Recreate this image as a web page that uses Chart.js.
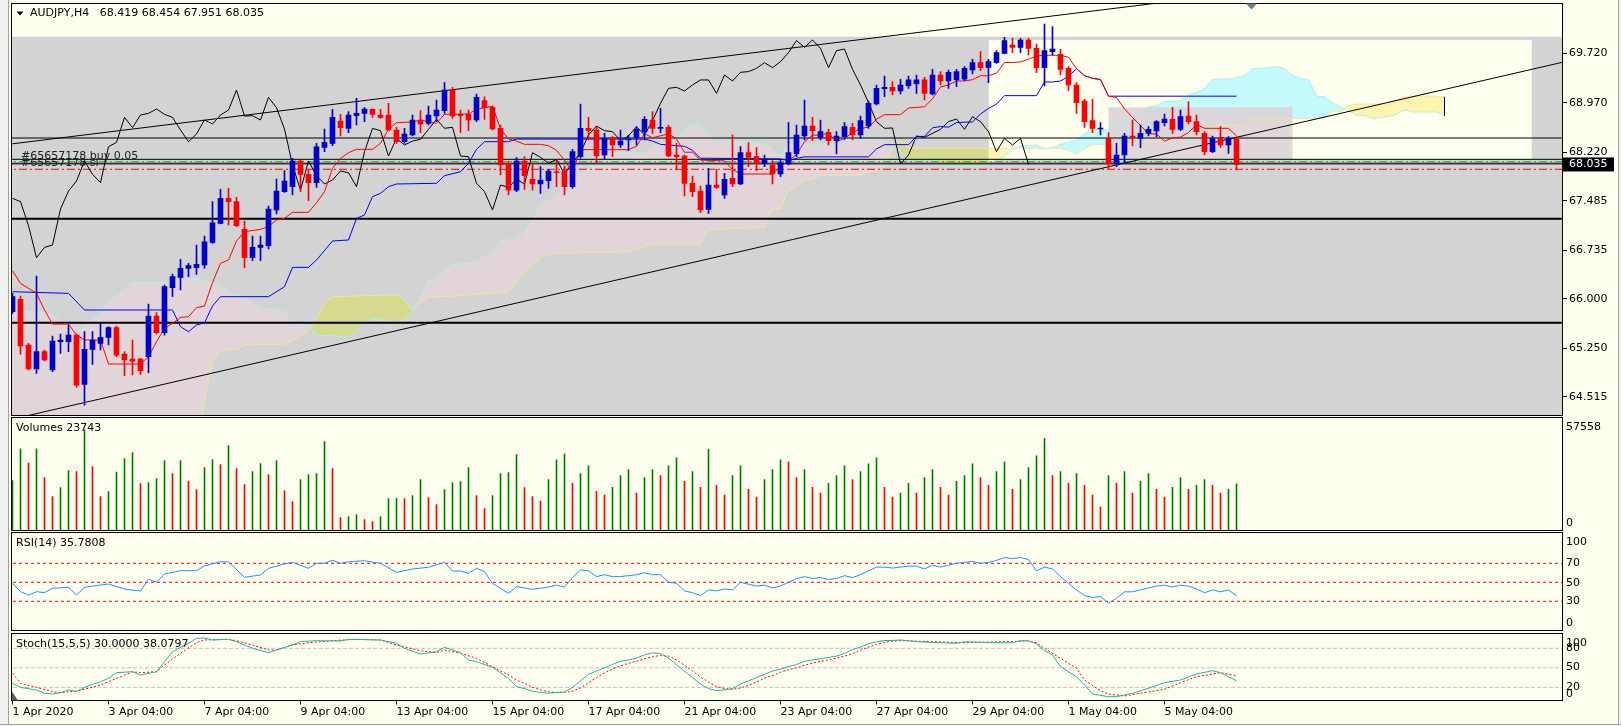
<!DOCTYPE html>
<html>
<head>
<meta charset="utf-8">
<title>AUDJPY,H4</title>
<script src="https://cdn.jsdelivr.net/npm/chart.js@4.4.1/dist/chart.umd.min.js"></script>
<style>
  html, body { margin:0; padding:0; }
  body { width:1621px; height:726px; background:#FFFFF0; position:relative; overflow:hidden; }
  canvas { position:absolute; left:0; }
  .win { position:absolute; background:#F0F0F0; }
</style>
</head>
<body>
<div class="win" style="left:0;top:0;width:8px;height:726px;border-right:1px solid #A0A0A0;"></div>
<div class="win" style="left:1618px;top:0;width:3px;height:726px;border-left:1px solid #A0A0A0;"></div>
<div class="win" style="left:0;top:724px;width:1621px;height:2px;border-top:1px solid #A0A0A0;"></div>
<canvas id="main" width="1621" height="416" style="top:0px"></canvas>
<canvas id="vol" width="1621" height="114" style="top:417px"></canvas>
<canvas id="rsi" width="1621" height="100" style="top:532px"></canvas>
<canvas id="sto" width="1621" height="93" style="top:633px"></canvas>
<script>
// ---------------- DATA ----------------
const symbol = 'AUDJPY', timeframe = 'H4';

const opens = [65.803,65.990,65.298,64.934,65.197,64.919,65.348,65.348,65.449,64.702,
65.232,65.323,65.414,65.561,65.161,65.086,65.086,65.121,65.737,65.485,
66.167,66.324,66.460,66.470,66.511,66.854,67.142,67.521,67.471,67.051,
66.622,66.778,66.804,67.344,67.622,67.698,68.087,67.885,67.759,68.294,
68.355,68.694,68.582,68.774,68.810,68.870,68.785,68.785,68.557,68.380,
68.481,68.709,68.658,68.769,68.850,69.163,68.795,68.795,68.709,69.002,
68.901,68.582,68.052,67.647,68.087,67.809,67.739,67.789,67.925,67.941,
67.698,68.153,68.582,68.557,68.178,68.446,68.330,68.406,68.446,68.532,
68.709,68.583,68.598,68.179,68.163,67.749,67.633,67.355,67.724,67.572,
67.825,67.739,68.214,68.153,68.052,68.027,67.891,68.042,68.194,68.467,
68.618,68.446,68.522,68.396,68.457,68.598,68.482,68.618,68.952,69.184,
69.204,69.149,69.230,69.255,69.316,69.103,69.391,69.300,69.316,69.326,
69.467,69.578,69.507,69.578,69.720,69.846,69.811,69.922,69.795,69.502,
69.745,69.705,69.492,69.240,68.997,68.699,68.573,68.431,68.042,68.179,
68.467,68.431,68.507,68.543,68.669,68.719,68.568,68.770,68.684,68.507,
68.229,68.446,68.330,68.419];

const highs = [66.081,66.041,65.323,66.344,65.222,65.434,65.465,65.601,65.465,65.500,
65.500,65.626,65.576,65.586,65.197,65.374,65.096,65.919,65.788,66.207,
66.374,66.597,66.536,66.814,66.950,67.471,67.658,67.673,67.536,67.178,
66.950,66.950,67.405,67.814,67.941,68.128,68.100,67.951,68.355,68.572,
68.870,68.795,68.835,69.037,68.896,68.880,68.870,68.961,68.598,68.582,
68.785,68.850,68.921,69.012,69.275,69.204,68.860,68.860,69.103,69.062,
68.921,68.633,68.087,68.138,68.153,68.052,68.001,67.961,68.102,68.012,
68.264,68.951,68.749,68.608,68.507,68.456,68.557,68.481,68.608,68.760,
68.835,68.886,68.633,68.355,68.179,67.860,67.709,67.976,67.961,67.901,
68.482,68.305,68.365,68.290,68.179,68.093,68.113,68.669,68.633,69.012,
68.750,68.709,68.568,68.532,68.669,68.659,68.770,68.997,69.240,69.376,
69.290,69.326,69.376,69.391,69.356,69.477,69.442,69.467,69.477,69.518,
69.629,69.745,69.629,69.760,69.962,69.947,69.947,69.947,69.861,70.164,
70.124,69.780,69.518,69.275,69.022,69.022,68.669,68.517,68.355,68.507,
68.709,68.633,68.608,68.699,68.800,68.901,68.861,68.987,68.785,68.532,
68.467,68.608,68.457,68.454];

const lows = [65.778,65.161,64.920,64.868,65.056,64.894,65.172,65.197,64.656,64.388,
65.005,65.222,65.298,65.121,64.833,64.843,64.853,64.879,65.465,65.449,
66.031,66.132,66.334,66.369,66.460,66.839,67.132,67.117,67.092,66.470,
66.576,66.576,66.753,67.284,67.612,67.572,67.622,67.486,67.688,68.229,
68.320,68.466,68.517,68.633,68.684,68.749,68.734,68.547,68.355,68.355,
68.466,68.517,68.633,68.684,68.810,68.734,68.517,68.547,68.684,68.719,
68.557,67.875,67.572,67.622,67.658,67.647,67.597,67.673,67.698,67.572,
67.673,68.128,68.406,68.052,68.113,68.153,68.294,68.244,68.330,68.406,
68.507,68.517,68.153,67.951,67.557,67.547,67.304,67.294,67.673,67.522,
67.698,67.730,68.002,67.941,68.002,67.739,67.850,68.027,68.153,68.406,
68.396,68.406,68.330,68.194,68.416,68.406,68.431,68.583,68.937,69.063,
69.088,69.103,69.189,69.113,69.012,69.088,69.240,69.189,69.215,69.305,
69.406,69.457,69.275,69.568,69.710,69.730,69.730,69.694,69.427,69.225,
69.694,69.391,69.154,68.810,68.598,68.517,68.482,67.976,68.002,68.052,
68.315,68.290,68.467,68.457,68.618,68.507,68.548,68.649,68.482,68.179,
68.214,68.295,68.204,67.951];

const closes = [66.031,65.283,64.934,65.197,65.071,65.359,65.374,65.449,64.691,65.232,
65.374,65.414,65.561,65.146,65.071,65.055,64.909,65.737,65.485,66.182,
66.334,66.460,66.501,66.521,66.864,67.152,67.521,67.471,67.107,66.622,
66.778,66.814,67.360,67.632,67.784,68.087,67.885,67.759,68.304,68.370,
68.749,68.593,68.785,68.810,68.875,68.795,68.749,68.557,68.380,68.497,
68.709,68.648,68.785,68.860,69.163,68.769,68.774,68.709,69.052,68.896,
68.572,68.027,67.647,68.087,67.865,67.739,67.799,67.936,67.910,67.698,
68.229,68.582,68.547,68.163,68.431,68.330,68.390,68.416,68.567,68.719,
68.583,68.598,68.163,68.153,67.749,67.623,67.345,67.724,67.688,67.810,
67.739,68.214,68.143,68.052,68.113,67.891,68.062,68.214,68.482,68.618,
68.547,68.532,68.396,68.467,68.608,68.482,68.699,68.962,69.189,69.204,
69.149,69.240,69.316,69.316,69.113,69.391,69.300,69.432,69.442,69.492,
69.578,69.502,69.593,69.730,69.912,69.811,69.922,69.795,69.502,69.760,
69.785,69.477,69.240,68.972,68.684,68.583,68.588,68.042,68.179,68.467,
68.446,68.507,68.568,68.684,68.724,68.568,68.760,68.684,68.532,68.229,
68.431,68.330,68.431,68.035];

const volumes = [25470,41600,34300,41600,27000,17300,21900,30560,30050,51300,
32600,17300,19870,29700,36680,39730,23940,24450,26490,35660,
29040,35660,25120,20890,32090,36170,33620,43300,31580,23430,
30050,34130,28530,35660,20380,14770,25980,28530,29040,45340,
31580,6620,7130,8150,5600,4580,7130,16300,16400,16200,
17830,25980,16810,13240,20890,24450,24960,32090,17830,11210,
17830,29040,29550,38710,21900,17300,15000,26000,36000,39000,
24000,29000,33000,20000,18000,22000,28000,31000,19000,27000,
31000,28000,33000,37000,25000,30000,22000,41500,23000,18000,
28000,33000,21000,17000,26000,31000,36000,35000,27000,31000,
22000,19000,24000,28000,33000,26000,30000,34000,37000,22000,
17000,19000,24000,19000,27000,31000,22000,18000,25000,28000,
34000,27000,23000,30000,35000,21000,26000,32000,38000,47000,
28000,30000,24000,29000,23000,18000,12000,28000,24000,30000,
19000,25000,29000,21000,17000,22000,27000,21000,23000,26000,
23000,19000,21000,23743];
const VOL_MAX = 57558;

// Ichimoku lines, read as [bar, price] vertices
const tenkan = [[0,66.425],[1,66.233],[3,66.081],[4,65.829],[5,65.616],[7,65.616],[8,65.449],[9,65.374],[11,65.374],[12,65.010],[16,65.010],[17,65.121],[18,65.348],[19,65.550],[20,65.626],[21,65.717],[22,65.727],[23,65.864],[24,65.889],[25,66.243],[26,66.536],[27,66.587],[28,66.874],[29,67.016],[31,67.051],[32,67.092],[33,67.193],[34,67.218],[35,67.309],[37,67.309],[38,67.455],[39,67.622],[40,67.976],[41,68.128],[42,68.213],[43,68.264],[45,68.264],[46,68.355],[47,68.567],[48,68.668],[50,68.678],[51,68.709],[53,68.658],[54,68.795],[57,68.80],[58,68.87],[59,68.896],[60,68.916],[61,68.575],[62,68.42],[63,68.39],[64,68.34],[66,68.34],[67,68.32],[68,68.25],[69,68.10],[70,67.92],[71,68.26],[77,68.26],[78,68.31],[79,68.50],[80,68.44],[81,68.47],[82,68.50],[83,68.42],[84,68.22],[85,68.22],[86,68.10],[89,68.09],[90,67.96],[91,67.89],[95,67.89],[96,68.00],[97,68.10],[98,68.18],[99,68.38],[100,68.48],[101,68.48],[102,68.51],[103,68.38],[104,68.43],[105,68.52],[106,68.58],[107,68.60],[108,68.72],[109,68.79],[111,68.79],[112,68.89],[113,68.90],[114,68.91],[115,69.03],[116,69.21],[117,69.24],[118,69.30],[119,69.30],[120,69.32],[121,69.38],[122,69.38],[123,69.42],[124,69.58],[125,69.58],[126,69.59],[127,69.63],[128,69.68],[129,69.69],[131,69.69],[132,69.66],[133,69.487],[134,69.381],[135,69.34],[136,69.323],[137,69.07],[138,69.05],[139,68.878],[140,68.747],[141,68.626],[142,68.499],[143,68.499],[144,68.388],[145,68.438],[146,68.45],[147,68.52],[148,68.64],[149,68.583],[152,68.583],[153,68.469]];

const kijun = [[0,66.106],[7,66.081],[9,65.829],[20,65.829],[21,65.576],[22,65.50],[23,65.601],[24,65.636],[25,65.889],[26,66.031],[32,66.031],[34,66.182],[35,66.475],[37,66.475],[38,66.586],[40,66.875],[42,66.89],[43,67.218],[44,67.269],[45,67.547],[46,67.597],[47,67.698],[48,67.739],[53,67.749],[54,67.865],[56,67.925],[57,68.052],[58,68.264],[59,68.38],[62,68.38],[63,68.42],[79,68.42],[80,68.39],[81,68.34],[84,68.31],[85,68.25],[86,68.13],[96,68.12],[97,68.09],[98,68.13],[99,68.15],[107,68.15],[108,68.27],[109,68.335],[112,68.335],[113,68.46],[114,68.46],[115,68.59],[116,68.61],[117,68.60],[118,68.67],[120,68.68],[121,68.80],[122,68.886],[123,68.95],[124,69.078],[128,69.078],[129,69.285],[130,69.285],[131,69.30],[132,69.37],[133,69.487],[134,69.381],[135,69.34],[136,69.323],[137,69.07],[153,69.07]];

const spanA = [[0,65.803],[4,65.803],[7,65.601],[8,65.551],[9,65.586],[10,65.677],[11,65.778],[12,65.955],[13,66.041],[14,66.157],[15,66.248],[19,66.248],[20,66.268],[23,66.309],[24,66.283],[25,66.248],[26,66.182],[28,66.056],[29,66.020],[30,65.929],[31,65.854],[33,65.839],[34,65.803],[35,65.616],[37,65.601],[38,65.449],[42,65.424],[43,65.525],[44,65.616],[45,65.702],[46,65.677],[48,65.636],[49,65.677],[50,65.803],[51,66.031],[52,66.283],[53,66.293],[54,66.425],
[55,66.52],[56,66.53],[57,66.54],[58,66.56],[59,66.65],[60,66.70],[61,66.89],[62,66.89],[63,66.89],[64,67.02],[65,67.18],[66,67.43],[67,67.50],[68,67.55],[69,67.74],[70,67.77],[71,67.91],[72,67.98],[73,68.13],[74,68.20],[75,68.21],[76,68.21],[77,68.22],[78,68.20],[79,68.20],[80,68.33],[81,68.36],[82,68.36],[83,68.43],[84,68.57],[85,68.64],[86,68.65],[87,68.48],[88,68.40],[89,68.41],[90,68.38],[91,68.38],[92,68.38],[93,68.37],[94,68.34],[95,68.26],[96,68.17],[97,68.34],[98,68.34],[99,68.34],[100,68.34],[101,68.34],[102,68.34],[103,68.34],[104,68.37],[105,68.46],[106,68.42],[107,68.41],[108,68.42],[109,68.38],[110,68.27],[111,68.24],[112,68.11],[113,68.11],[114,68.11],[115,68.11],[116,68.04],[117,68.01],[118,68.01],[119,68.01],[120,68.01],[121,68.01],[122,68.06],[123,68.10],[124,68.16],[125,68.27],[126,68.32],[127,68.32],[128,68.33],[129,68.27],[130,68.29],[131,68.34],[132,68.37],[133,68.40],[134,68.50],[135,68.56],[136,68.56],[137,68.56],[138,68.61],[139,68.68],[140,68.69],[141,68.81],[142,68.91],[143,68.92],[144,68.99],[145,68.99],[146,69.00],[147,69.09],[148,69.13],[149,69.19],[150,69.33],[151,69.33],[152,69.33],[153,69.35],[154,69.38],[155,69.49],[156,69.49],[157,69.50],[158,69.52],[159,69.49],[160,69.38],[161,69.34],[162,69.32],[163,69.07],[164,69.06],[165,68.97],[166,68.91],[167,68.85],[168,68.78],[169,68.78],[170,68.73],[171,68.75],[172,68.76],[173,68.80],[174,68.86],[175,68.83],[176,68.83],[177,68.83],[178,68.83],[179,68.77]];

const spanB = [[0,63.6],[23,63.6],[24,64.45],[25,65.05],[26,65.22],[28,65.23],[29,65.30],[34,65.31],[35,65.37],[36,65.45],[37,65.53],[38,65.70],[39,65.93],[40,66.03],[48,66.06],[49,65.98],[50,65.83],[51,65.95],[52,66.02],[55,66.04],[62,66.10],[63,66.25],[64,66.40],[66,66.64],[68,66.69],[77,66.71],[80,66.83],[86,66.83],[87,67.05],[94,67.08],[95,67.37],[96,67.36],[97,67.65],[98,67.70],[99,67.80],[100,67.82],[101,67.87],[106,67.87],[107,67.93],[108,67.93],[109,68.01],[110,68.28],[111,68.38],[112,68.29],[113,68.28],[122,68.28],[131,68.28],[132,68.25],[133,68.20],[134,68.27],[135,68.335],[138,68.335],[139,68.34],[140,68.34],[141,68.39],[143,68.39],[144,68.44],[145,68.44],[146,68.46],[147,68.52],[149,68.52],[150,68.63],[154,68.63],[155,68.73],[164,68.73],[165,68.84],[166,68.84],[167,68.93],[168,68.95],[172,68.95],[173,69.01],[174,69.07],[178,69.07],[179,69.06]];
const chikouShift = 26;
const cloudSplit = 122;   // bar where the light rectangle begins

const rsi = [[0,48.9],[1,40.1],[2,36.6],[3,40.1],[4,39.1],[5,43.7],[7,44.7],[8,36.6],[9,44.7],[11,47.2],[12,48.2],[14,42.9],[16,40.8],[17,53.2],[18,50],[19,58.7],[21,62.2],[23,62.2],[24,67.2],[26,71.7],[27,71.4],[29,55.3],[31,57.7],[32,64.7],[34,69.3],[35,71],[37,64.7],[38,70],[39,70],[40,73.2],[41,70],[42,71.7],[44,72.7],[46,70],[48,60.5],[50,64],[52,65.8],[54,71],[55,61.9],[56,61.9],[57,59.5],[58,64.7],[59,61.2],[60,48.9],[62,38.4],[63,45.4],[65,42.6],[66,43.7],[67,45],[68,47],[69,45],[70,55],[71,63],[72,62],[73,56],[74,58],[75,56],[76,56],[77,57],[78,58],[79,60],[80,58],[81,58],[82,50],[83,49],[84,41],[85,39],[86,36],[87,42],[88,41],[89,43],[90,42],[91,50],[92,48],[93,46],[94,47],[95,44],[96,46],[97,50],[98,54],[99,56],[100,54],[101,55],[102,53],[103,54],[104,57],[105,55],[106,58],[107,62],[108,66],[109,66],[110,65],[111,66],[112,67],[113,67],[114,64],[115,68],[116,66],[117,68],[118,70],[119,71],[120,72],[121,70],[122,71],[123,73],[124,76],[125,75],[126,76],[127,74],[128,62],[129,66],[130,64],[131,56],[132,49],[133,42],[134,36],[135,34],[136,35],[137,28],[138,33],[139,40],[140,40],[141,42],[142,44],[143,46],[144,47],[145,45],[146,47],[147,46],[148,43],[149,39],[150,42],[151,40],[152,42],[153,35.7808]];

const stochMain = [[0,26.2],[1,20],[3,15.8],[4,10.8],[5,9.7],[6,11.7],[7,15.8],[8,13.3],[9,20],[11,28.6],[12,33.8],[13,42.5],[15,44],[16,38.9],[18,44],[19,59.4],[20,74.8],[22,87.7],[23,95.4],[24,95.8],[25,92.8],[27,93.8],[28,90.2],[30,80],[32,73.3],[33,77.4],[35,85.1],[36,90.2],[38,91.7],[41,91.2],[42,93.8],[46,92.8],[48,87.7],[49,80],[51,71.2],[53,74.8],[54,81.5],[56,73.3],[57,62],[58,59.4],[60,50.8],[62,33.8],[63,20.9],[64,18],[65,14],[66,12],[67,11],[68,12],[69,13],[70,20],[71,30],[72,40],[73,45],[74,50],[75,55],[76,60],[77,62],[78,65],[79,70],[80,73],[81,72],[82,65],[83,55],[84,45],[85,35],[86,25],[87,18],[88,15],[89,16],[90,18],[91,25],[92,30],[93,35],[94,40],[95,45],[96,48],[97,52],[98,55],[99,60],[100,62],[101,64],[102,66],[103,68],[104,72],[105,78],[106,82],[107,87],[108,90],[109,92],[110,92],[111,92.8],[113,90.2],[116,88.6],[118,87.7],[119,90.2],[122,88.6],[125,88.6],[126,91.7],[127,91.7],[128,86.6],[129,76.3],[130,69.7],[131,51.7],[133,36.3],[134,23.5],[135,9.7],[137,5.5],[138,5.5],[140,10.8],[142,18.5],[144,27.1],[146,31.2],[148,40.5],[150,45.5],[151,42.5],[153,30.0]];

const stochSignal = [[0,41.5],[1,26.2],[3,20],[5,13.3],[6,11.7],[8,14.3],[9,16.9],[11,23.5],[13,33.8],[15,44],[16,42.5],[18,44],[19,54.3],[21,72.3],[23,88.6],[24,92.8],[27,93.8],[28,91.7],[30,85.1],[32,77.4],[33,77.4],[35,85.1],[37,88.6],[40,91.7],[43,93.8],[46,92.8],[48,85.1],[51,76.3],[53,73.3],[54,77.4],[56,72.3],[58,64.6],[60,51.7],[62,38.9],[63,31.2],[64,26],[65,20],[66,16],[67,13],[68,12],[69,12],[70,14],[71,19],[72,27],[73,35],[74,42],[75,48],[76,53],[77,57],[78,60],[79,64],[80,67],[81,69],[82,68],[83,62],[84,54],[85,45],[86,36],[87,28],[88,21],[89,18],[90,17],[91,19],[92,23],[93,28],[94,34],[95,38],[96,43],[97,47],[98,50],[99,54],[100,57],[101,60],[102,62],[103,65],[104,68],[105,72],[106,77],[107,82],[108,86],[109,89],[110,91],[111,91.7],[115,90.2],[119,88.6],[124,90.2],[127,91.2],[128,88.6],[129,80],[131,64.6],[133,49.2],[134,31.2],[136,14.8],[137,9.7],[139,6.6],[141,10.8],[144,16.9],[146,27.1],[148,36.3],[151,42.5],[152,40],[153,38.0797]];

// levels, objects and tick labels
const priceTicks = [69.720, 68.970, 68.220, 67.485, 66.735, 66.000, 65.250, 64.515];
const timeTickBars = [0,12,24,36,48,60,72,84,96,108,120,132,144];
const timeTickLabels = ['1 Apr 2020','3 Apr 04:00','7 Apr 04:00','9 Apr 04:00','13 Apr 04:00','15 Apr 04:00','17 Apr 04:00','21 Apr 04:00','23 Apr 04:00','27 Apr 04:00','29 Apr 04:00','1 May 04:00','5 May 04:00'];
const thinLevels = [68.436, 68.113, 68.053];
const thickLevels = [67.213, 65.636];
const entryLevel = 68.077, slLevel = 67.962;
const ticket = '#65657178', lots = '0.05';
const upperTrend = [[0, 68.348], [150, 70.584]];
const lowerTrend = [[0, 64.175], [194, 69.591]];
const rsiLevels = [70, 50, 30];
const stochLevels = [80, 50, 20];
const zones = {
  gray:  { from: -5, to: 200, high: 69.972, low: 60 },
  ivory: { from: 122.03, to: 189.9, high: 69.92, low: 68.12 },
  mauve: { from: 137, to: 160, high: 68.901, low: 68.113 }
};

// ---------------- STYLE / LAYOUT ----------------
const C = {
  gray:'#D3D3D3', ivory:'#FFFFF0', mauve:'rgba(218,208,214,0.85)',
  pink:'#E1D5DA', olive:'#D6DA8E', cyan:'#C4FAFC', paleYellow:'#FFF5AF',
  spanA:'#AFEEEE', spanB:'#F3E59A', tenkan:'#FF0000', kijun:'#0000FF', chikou:'#000000',
  bull:'#0000CD', bear:'#FF0000', volUp:'#008000', volDown:'#FF0000',
  rsi:'#1E90FF', rsiLevel:'#FF0000', stoK:'#20B2AA', stoD:'#FF0000', stoLevel:'#C0C0C0',
  entry:'#22B022', sl:'#FF0000', bid:'#778899'
};
const FONT = "11px 'DejaVu Sans'";
const XMIN = -0.1875, XMAX = XMIN + 1551 / 8;
const L = {
  main: { yMin: 64.2296, yMax: 70.4749 },
  vol:  { labelAt: [52875, 3973] },
  rsi:  { min: -0.74, max: 102.42, labelAt: [92.7, 70, 49.6, 30, 6.8], labelText: ['100','70','50','30','0'] },
  sto:  { min: -0.31, max: 102.77, labelAt: [88.6, 80, 50.8, 20.9, 9.7], labelText: ['100','80','50','20','0'] }
};

Chart.defaults.font.family = "'DejaVu Sans', sans-serif";
Chart.defaults.font.size = 11;
Chart.defaults.color = '#000';
Chart.defaults.elements.point.radius = 0;
Chart.defaults.elements.point.hoverRadius = 0;
Chart.defaults.elements.line.tension = 0;

const pts = a => a.map(([x, y]) => ({ x, y }));
const across = v => [{ x: XMIN - 5, y: v }, { x: XMAX + 5, y: v }];

function hiddenX(shift) {
  return { type:'linear', min: XMIN + shift, max: XMAX + shift, bounds:'data', offset:false, display:false };
}
function yAxis(min, max, labelAt, labelText, padding, tickLen) {
  return {
    type:'linear', position:'right', min, max, bounds:'data',
    afterFit: s => { s.width = 59; s.paddingTop = 0; s.paddingBottom = 0; s.paddingLeft = 0; s.paddingRight = 0; },
    afterBuildTicks: s => { s.ticks = labelAt.map(v => ({ value: v })); },
    ticks: { autoSkip:false, padding, color:'#000', font:{ size:11 }, callback: (v, i) => labelText[i] },
    grid: { drawOnChartArea:false, drawTicks: tickLen > 0, tickLength: tickLen, color:'#000', lineWidth:1 },
    border: { display:false }
  };
}
function baseOptions(scales, padding) {
  return {
    responsive:false, animation:false, devicePixelRatio:1, events:[],
    layout:{ padding }, scales,
    datasets:{ bar:{ grouped:false } },
    plugins:{ legend:{ display:false }, tooltip:{ enabled:false }, filler:{ propagate:false, drawTime:'beforeDatasetsDraw' } }
  };
}
function frame(ctx, a) {
  ctx.strokeStyle = '#000'; ctx.lineWidth = 1;
  ctx.strokeRect(a.left + 0.5, a.top, a.width, a.bottom - a.top);
}
function paintZone(ctx, x, y, z, color) {
  const l = x.getPixelForValue(z.from), r = x.getPixelForValue(z.to);
  const t = y.getPixelForValue(z.high), b = y.getPixelForValue(z.low);
  ctx.fillStyle = color; ctx.fillRect(l, t, r - l, b - t);
}
function panelDecor(title, extra) {
  return { id:'panelDecor', afterDraw(chart) {
    const { ctx, chartArea:a } = chart;
    ctx.save();
    frame(ctx, a);
    ctx.font = FONT; ctx.fillStyle = '#000'; ctx.textAlign = 'left'; ctx.textBaseline = 'middle';
    ctx.fillText(title, 16, a.top + 11);
    if (extra) extra(ctx, a);
    ctx.restore();
  }};
}

// ---------------- MAIN PRICE CHART ----------------
const last = closes.length - 1;
const idx = closes.map((_, i) => i);
const candleColor = idx.map(i => closes[i] >= opens[i] ? C.bull : C.bear);

const mainDecor = {
  id:'mainDecor',
  beforeDraw(chart) {
    const { ctx, chartArea:a, scales:{ x, y } } = chart;
    ctx.save();
    ctx.beginPath(); ctx.rect(a.left, a.top, a.width, a.bottom - a.top); ctx.clip();
    paintZone(ctx, x, y, zones.gray, C.gray);
    paintZone(ctx, x, y, zones.ivory, C.ivory);
    ctx.restore();
  },
  beforeDatasetsDraw(chart) {
    const { ctx, chartArea:a, scales:{ x, y } } = chart;
    ctx.save();
    ctx.beginPath(); ctx.rect(a.left, a.top, a.width, a.bottom - a.top); ctx.clip();
    paintZone(ctx, x, y, zones.mauve, C.mauve);
    ctx.restore();
  },
  afterDraw(chart) {
    const { ctx, chartArea:a, scales:{ y } } = chart;
    ctx.save();
    frame(ctx, a);
    ctx.font = FONT; ctx.textAlign = 'left';
    // header
    ctx.fillStyle = '#000';
    ctx.beginPath(); ctx.moveTo(16.5, 11.5); ctx.lineTo(23.5, 11.5); ctx.lineTo(20, 15.5); ctx.closePath(); ctx.fill();
    ctx.textBaseline = 'middle';
    ctx.fillText(symbol + ',' + timeframe + '   ' + opens[last].toFixed(3) + ' ' + highs[last].toFixed(3) + ' ' +
                 lows[last].toFixed(3) + ' ' + closes[last].toFixed(3), 30, 13.5);
    // trade labels
    ctx.fillStyle = '#222';
    ctx.textBaseline = 'alphabetic';
    ctx.fillText(ticket + ' buy ' + lots, 21, y.getPixelForValue(entryLevel) - 3);
    ctx.fillText(ticket + ' sl', 21, y.getPixelForValue(slLevel) - 3);
    // current price box
    const yc = y.getPixelForValue(closes[last]);
    ctx.fillStyle = '#000'; ctx.fillRect(a.right + 1, yc - 7, 51, 14);
    ctx.fillStyle = '#FFF'; ctx.textBaseline = 'middle';
    ctx.fillText(closes[last].toFixed(3), a.right + 7, yc);
    // chart shift marker
    ctx.fillStyle = '#6E7F90';
    ctx.beginPath(); ctx.moveTo(1246, a.top); ctx.lineTo(1257, a.top); ctx.lineTo(1251.5, a.top + 6); ctx.closePath(); ctx.fill();
    ctx.restore();
  }
};

const lineSet = (data, color, width, order, extra) => Object.assign({ type:'line', data, borderColor:color, borderWidth:width, order, fill:false }, extra || {});

const mainSets = [
  lineSet(pts(spanA.filter(p => p[0] <= cloudSplit)), 'transparent', 0, 20, { fill:{ target:'+1', above:C.pink, below:C.olive } }),
  lineSet(pts(spanB.filter(p => p[0] <= cloudSplit)), 'transparent', 0, 20),
  lineSet(pts(spanA.filter(p => p[0] >= cloudSplit)), 'transparent', 0, 20, { fill:{ target:'+1', above:C.cyan, below:C.paleYellow } }),
  lineSet(pts(spanB.filter(p => p[0] >= cloudSplit)), 'transparent', 0, 20),
  lineSet(pts(spanA), C.spanA, 1, 12),
  lineSet(pts(spanB), C.spanB, 1, 12),
  lineSet(pts([spanA[spanA.length - 1], spanB[spanB.length - 1]]), '#000', 1, 11),
  ...thinLevels.map(v => lineSet(across(v), '#000', 1, 9)),
  lineSet(across(closes[last]), C.bid, 1, 9),
  lineSet(across(entryLevel), C.entry, 1, 9, { borderDash:[8,3,2,3] }),
  lineSet(across(slLevel), C.sl, 1, 9, { borderDash:[8,3,2,3] }),
  ...thickLevels.map(v => lineSet(across(v), '#000', 2, 9)),
  lineSet(pts(upperTrend), '#000', 1, 8),
  lineSet(pts(lowerTrend), '#000', 1, 8),
  lineSet(closes.slice(chikouShift).map((c, i) => ({ x: i, y: c })), C.chikou, 1, 6),
  lineSet(pts(kijun), C.kijun, 1, 5),
  lineSet(pts(tenkan), C.tenkan, 1, 4),
  { type:'bar', data: idx.map(i => ({ x: i, y: [lows[i], highs[i]] })), backgroundColor: candleColor, barThickness:1, order:2 },
  { type:'bar', data: idx.map(i => ({ x: i, y: [opens[i], closes[i]] })), backgroundColor: candleColor, barThickness:5, minBarLength:1, order:1 }
];

new Chart(document.getElementById('main'), {
  type:'bar',
  data:{ datasets: mainSets },
  options: baseOptions({
    x: hiddenX(0),
    y: yAxis(L.main.yMin, L.main.yMax, priceTicks, priceTicks.map(v => v.toFixed(3)), 2, 5)
  }, { left:11, right:0, top:3.5, bottom:0.5 }),
  plugins:[ mainDecor ]
});

// ---------------- VOLUMES ----------------
new Chart(document.getElementById('vol'), {
  type:'bar',
  data:{ datasets:[{
    data: volumes.map((v, i) => ({ x: i, y: v })),
    backgroundColor: volumes.map((v, i) => (i > 0 && v <= volumes[i - 1]) ? C.volDown : C.volUp),
    barThickness:1
  }]},
  options: baseOptions({
    x: hiddenX(0),
    y: yAxis(0, VOL_MAX, L.vol.labelAt, [String(VOL_MAX), '0'], 4, 0)
  }, { left:11, right:0, top:0.5, bottom:0.5 }),
  plugins:[ panelDecor('Volumes ' + volumes[last]) ]
});

// ---------------- RSI ----------------
new Chart(document.getElementById('rsi'), {
  type:'line',
  data:{ datasets:[
    lineSet(pts(rsi), C.rsi, 1, 0),
    ...rsiLevels.map(v => lineSet(across(v), C.rsiLevel, 1, 1, { borderDash:[3,3] }))
  ]},
  options: baseOptions({
    x: hiddenX(0),
    y: yAxis(L.rsi.min, L.rsi.max, L.rsi.labelAt, L.rsi.labelText, 4, 0)
  }, { left:11, right:0, top:0.5, bottom:1.5 }),
  plugins:[ panelDecor('RSI(14) ' + rsi[rsi.length - 1][1].toFixed(4)) ]
});

// ---------------- STOCHASTIC ----------------
new Chart(document.getElementById('sto'), {
  type:'line',
  data:{ datasets:[
    lineSet(pts(stochMain), C.stoK, 1, 0),
    lineSet(pts(stochSignal), C.stoD, 1, 1, { borderDash:[2,2] }),
    ...stochLevels.map(v => lineSet(across(v), C.stoLevel, 1, 2, { borderDash:[4,2] }))
  ]},
  options: baseOptions({
    x: {
      type:'linear', min:XMIN, max:XMAX, bounds:'data', offset:false, position:'bottom',
      afterFit: s => { s.height = 25.5; s.paddingLeft = 0; s.paddingRight = 0; s.paddingTop = 0; s.paddingBottom = 0; },
      afterBuildTicks: s => { s.ticks = timeTickBars.map(v => ({ value: v })); },
      ticks: { autoSkip:false, maxRotation:0, minRotation:0, align:'start', padding:1, color:'#000', font:{ size:11 },
               callback: (v, i) => timeTickLabels[i] },
      grid: { drawOnChartArea:false, drawTicks:true, tickLength:4, color:'#000', lineWidth:1 },
      border: { display:false }
    },
    y: yAxis(L.sto.min, L.sto.max, L.sto.labelAt, L.sto.labelText, 4, 0)
  }, { left:11, right:0, top:0.5, bottom:0 }),
  plugins:[ panelDecor('Stoch(15,5,5) ' + stochMain[stochMain.length - 1][1].toFixed(4) + ' ' +
                       stochSignal[stochSignal.length - 1][1].toFixed(4), (ctx, a) => {
    ctx.fillStyle = '#5A5A6A';
    ctx.beginPath(); ctx.moveTo(a.left + 1, a.bottom - 9); ctx.lineTo(a.left + 1, a.bottom); ctx.lineTo(a.left + 7, a.bottom); ctx.closePath(); ctx.fill();
  }) ]
});
</script>
</body>
</html>
